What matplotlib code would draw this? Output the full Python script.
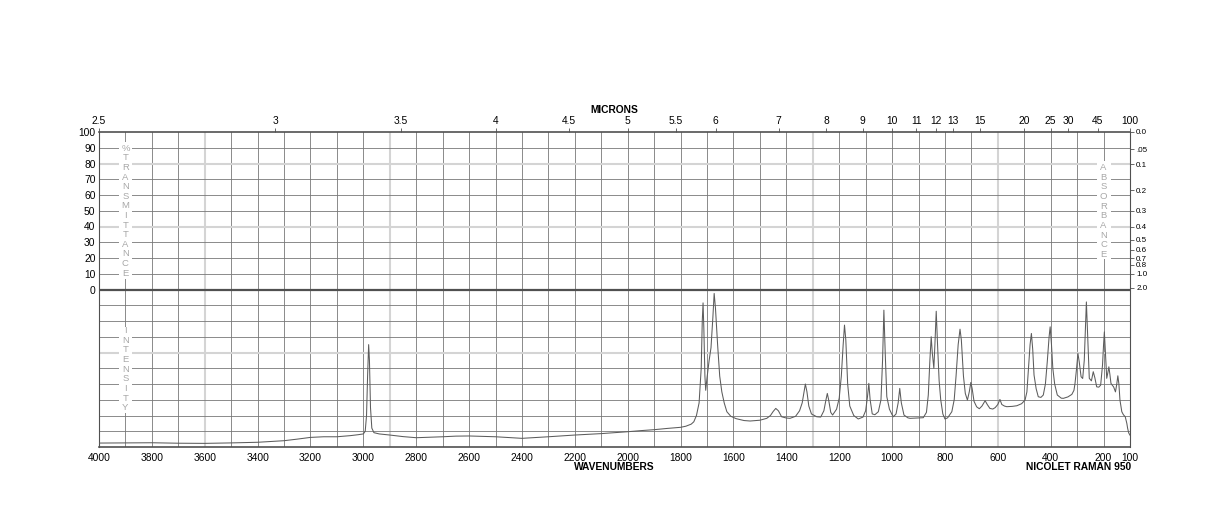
import matplotlib
matplotlib.use("Agg")
import matplotlib.pyplot as plt
from matplotlib.patches import Rectangle

plt.rcParams['font.family'] = ['Liberation Sans', 'DejaVu Sans']

# ---------------- data ----------------
# Raman spectrum: wavenumber (cm-1) and intensity (0-100 of lower panel)
spec_wn = [4000, 3900, 3800, 3700, 3600, 3500, 3400, 3300, 3250, 3200, 3150, 3100,
           3050, 3020, 3000, 2993, 2988, 2984, 2980, 2977, 2973, 2968, 2960, 2940,
           2900, 2850, 2800, 2750, 2700, 2650, 2600, 2500, 2450, 2400, 2300, 2200,
           2100, 2000, 1950, 1900, 1850, 1800, 1780, 1760, 1750, 1740, 1730, 1722,
           1718, 1715, 1712, 1708, 1705, 1700, 1692, 1685, 1678, 1673, 1668, 1660,
           1652, 1644, 1635, 1625, 1610, 1590, 1560, 1537, 1500, 1474, 1460, 1450,
           1440, 1430, 1418, 1400, 1386, 1365, 1350, 1340, 1332, 1328, 1322, 1315,
           1305, 1285, 1270, 1258, 1250, 1245, 1240, 1232, 1225, 1210, 1200, 1192,
           1185, 1180, 1175, 1168, 1160, 1145, 1128, 1110, 1100, 1093, 1088, 1083,
           1075, 1065, 1052, 1042, 1036, 1031, 1026, 1020, 1010, 1000, 995, 985,
           977, 971, 965, 955, 940, 932, 900, 882, 870, 863, 857, 852,
           848, 842, 838, 833, 828, 822, 816, 808, 800, 790, 774, 765,
           758, 750, 743, 738, 730, 723, 715, 708, 702, 697, 690, 680,
           670, 660, 648, 640, 630, 619, 610, 600, 592, 585, 575, 566,
           545, 528, 510, 497, 490, 484, 478, 473, 468, 463, 455, 447,
           437, 428, 420, 413, 406, 402, 397, 392, 385, 375, 360, 352,
           335, 320, 312, 308, 302, 297, 292, 285, 279, 273, 268, 265,
           261, 254, 246, 239, 233, 226, 218, 211, 204, 200, 197, 193,
           188, 184, 180, 176, 172, 166, 162, 155, 150, 146, 142, 138,
           131, 125, 118, 112, 109, 105, 100]
spec_int = [2.5, 2.6, 2.7, 2.4, 2.3, 2.6, 3.0, 4.0, 5.0, 6.1, 6.5, 6.5,
            7.2, 7.8, 8.3, 10, 20, 45, 65, 55, 25, 12, 9.1, 8.3,
            7.6, 6.6, 5.9, 6.2, 6.5, 6.9, 7.0, 6.5, 6.0, 5.5, 6.5, 7.6,
            8.5, 9.7, 10.4, 11.0, 11.8, 12.5, 13.2, 14.5, 16, 20, 28, 50,
            80, 91.5, 75, 45, 36, 44, 55, 63, 82, 97.5, 88, 65,
            45, 35, 28, 22.4, 19.5, 18, 16.8, 16.5, 17, 18.2, 20, 22.5,
            24.5, 23, 19.2, 18.4, 18.2, 19.5, 23, 28, 36, 40, 35, 26,
            21, 19.2, 19, 23, 30, 34, 30, 22, 20.3, 24, 31, 45,
            65, 77.4, 68, 40, 26, 20, 17.8, 19, 23, 32, 40.4, 30,
            21, 20.5, 22.4, 30, 55, 86.9, 60, 32, 24, 20.5, 19.2, 21,
            28, 37.2, 28, 20.3, 18.5, 18.2, 18.5, 18.6, 22, 33, 55, 70,
            60, 50, 65, 86.2, 65, 42, 30, 21, 17.8, 18.5, 22.4, 30,
            45, 65, 74.8, 68, 45, 34, 29.8, 35, 41, 37, 29, 25.5,
            24.3, 26, 29.4, 27, 24.5, 24.1, 25, 27, 30.2, 27, 26, 25.6,
            25.8, 26.2, 27.5, 29.8, 35, 50, 65, 72.1, 62, 45.7, 37, 31.9,
            31.5, 33, 40, 54, 70, 76.3, 65, 50, 40, 33, 31, 30.9,
            31.8, 33.4, 36, 40.4, 50, 59.4, 54, 44.6, 43.5, 55, 78, 92.1,
            75, 43.6, 42, 47.8, 44, 38.2, 38, 39.3, 52, 65, 73.1, 60,
            43.6, 47, 50.9, 46, 40.4, 39, 38.2, 35, 40, 45.2, 40, 29.8,
            22.4, 20.5, 19.2, 15, 11.9, 9, 7.5]

wn_ticks = [4000, 3800, 3600, 3400, 3200, 3000, 2800, 2600, 2400, 2200, 2000,
            1800, 1600, 1400, 1200, 1000, 800, 600, 400, 200, 100]
micron_ticks = [2.5, 3, 3.5, 4, 4.5, 5, 5.5, 6, 7, 8, 9, 10, 11, 12, 13, 15,
                20, 25, 30, 45, 100]
micron_labels = ['2.5', '3', '3.5', '4', '4.5', '5', '5.5', '6', '7', '8', '9',
                 '10', '11', '12', '13', '15', '20', '25', '30', '45', '100']
trans_ticks = [0, 10, 20, 30, 40, 50, 60, 70, 80, 90, 100]
absorb_ticks = [0.0, 0.05, 0.1, 0.2, 0.3, 0.4, 0.5, 0.6, 0.7, 0.8, 1.0, 2.0]
absorb_labels = ['0.0', '.05', '0.1', '0.2', '0.3', '0.4', '0.5', '0.6',
                 '0.7', '0.8', '1.0', '2.0']
light_vlines = [3600, 2900, 1300, 600]
light_hlines = [180, 140, 60]

# ---------------- figure ----------------
W, H = 1224, 528
fig = plt.figure(figsize=(W / 100, H / 100), dpi=100)
L, R, T, B = 99, 1130, 132, 447
ax = fig.add_axes([L / W, 1 - B / H, (R - L) / W, (B - T) / H])
ax.set_xlim(4000, 100)
ax.set_ylim(0, 200)

grid_c = '#777777'
light_c = '#d4d4d4'
frame_c = '#505050'

for w in range(3900, 100, -100):
    if w in light_vlines:
        ax.axvline(w, color=light_c, lw=1.5, zorder=1)
    else:
        ax.axvline(w, color=grid_c, lw=0.6, zorder=1)
for y in range(10, 200, 10):
    if y == 100:
        continue
    if y in light_hlines:
        ax.axhline(y, color=light_c, lw=1.5, zorder=1)
    else:
        ax.axhline(y, color=grid_c, lw=0.6, zorder=1)
ax.axhline(100, color=frame_c, lw=1.6, zorder=5)

for side in ['top', 'bottom']:
    ax.spines[side].set_color(frame_c)
    ax.spines[side].set_linewidth(1.2)
for side in ['left', 'right']:
    ax.spines[side].set_color(frame_c)
    ax.spines[side].set_linewidth(0.8)

# vertical label columns (white gaps + spaced letters)
letter_c = '#a8a8a8'
def column(x, x0, x1, y0, y1, ytop, text):
    ax.add_patch(Rectangle((x0, y0), x1 - x0, y1 - y0, facecolor='white',
                           edgecolor='none', zorder=2))
    for i, ch in enumerate(text):
        ax.text(x, ytop - i * 6.1, ch, ha='center', va='center', fontsize=6.8,
                color=letter_c, zorder=3)

column(3900, 3875, 3924, 106.7, 193.7, 189.7, '%TRANSMITTANCE')
column(3900, 3875, 3924, 21.6, 76.4, 73.8, 'INTENSITY')
column(200, 172, 225, 119.4, 181.6, 177.3, 'ABSORBANCE')

# spectrum
ax.plot(spec_wn, spec_int, color='#5c5c5c', lw=0.75, zorder=4)

# bottom axis
ax.set_xticks(wn_ticks)
ax.set_xticklabels([str(t) for t in wn_ticks])
ax.tick_params(axis='x', length=0, pad=4, labelsize=7.4)
# left axis
ax.set_yticks([100 + t for t in trans_ticks])
ax.set_yticklabels([str(t) for t in trans_ticks])
ax.tick_params(axis='y', length=0, pad=2.5, labelsize=7.4)

# right absorbance axis
axr = ax.twinx()
axr.set_ylim(0, 200)
axr.set_yticks([100 + 100 * 10 ** (-a) for a in absorb_ticks])
axr.set_yticklabels(absorb_labels)
axr.tick_params(axis='y', length=3, width=0.6, color=frame_c, pad=1.5,
                labelsize=5.8)
for s in axr.spines.values():
    s.set_visible(False)

# top micron axis
axt = ax.twiny()
axt.set_xlim(4000, 100)
axt.set_xticks([10000 / m for m in micron_ticks])
axt.set_xticklabels(micron_labels)
axt.tick_params(axis='x', length=3, width=0.6, color=frame_c, pad=1.5,
                labelsize=7.4)
for s in axt.spines.values():
    s.set_visible(False)

fig.text(614 / W, 1 - 110 / H, 'MICRONS', ha='center', va='center',
         fontsize=7.4, fontweight='bold')
fig.text(614 / W, 1 - 467 / H, 'WAVENUMBERS', ha='center', va='center',
         fontsize=7.4, fontweight='bold')
fig.text(1131 / W, 1 - 467 / H, 'NICOLET RAMAN 950', ha='right', va='center',
         fontsize=7.4, fontweight='bold')

fig.savefig('out.png', dpi=100)
